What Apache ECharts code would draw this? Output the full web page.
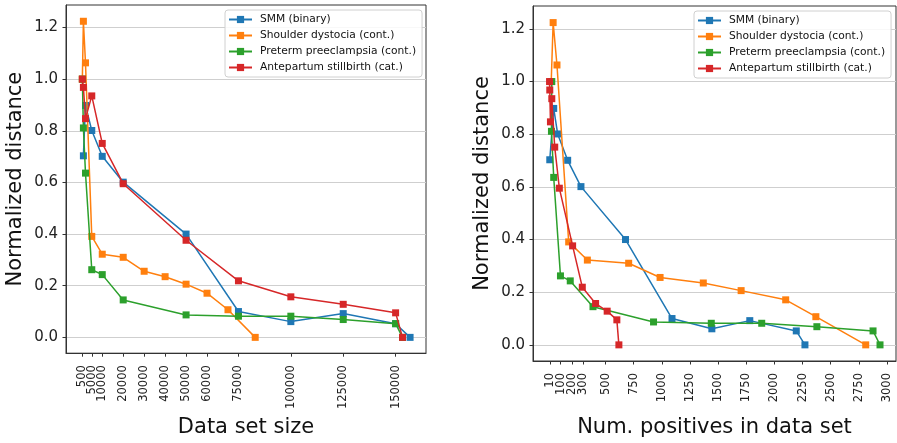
<!DOCTYPE html>
<html>
<head>
<meta charset="utf-8">
<script src="https://cdn.jsdelivr.net/npm/echarts@6/dist/echarts.min.js"></script>
<style>
  html, body { margin: 0; padding: 0; background: #fff; }
  #chart { width: 897px; height: 443px; }
</style>
</head>
<body>
<div id="chart"></div>
<script>
// series names + colours (matplotlib tab10)
const names = ["SMM (binary)", "Shoulder dystocia (cont.)", "Preterm preeclampsia (cont.)", "Antepartum stillbirth (cat.)"]
const colors = ["#1f77b4", "#ff7f0e", "#2ca02c", "#d62728"]

// SMM (binary)
const smmSize = [1000, 2000, 5000, 10000, 20000, 50000, 75000, 100000, 125000, 150000, 156900]
const smmPos = [4, 39, 74, 163, 281, 677, 1090, 1444, 1781, 2194, 2271]
const smmDist = [0.703, 0.898, 0.801, 0.701, 0.601, 0.400, 0.100, 0.061, 0.092, 0.053, 0.0]

// Shoulder dystocia (cont.)
const sdSize = [500, 1000, 2000, 5000, 10000, 20000, 30000, 40000, 50000, 60000, 70000, 83000]
const sdPos = [17, 34, 68, 172, 338, 705, 984, 1368, 1704, 2100, 2368, 2811]
const sdDist = [1.0, 1.224, 1.063, 0.391, 0.322, 0.310, 0.256, 0.235, 0.206, 0.171, 0.107, 0.0]

// Preterm preeclampsia (cont.)
const ppSize = [500, 1000, 2000, 5000, 10000, 20000, 50000, 75000, 100000, 125000, 150000, 153300]
const ppPos = [22, 19, 39, 99, 186, 388, 926, 1439, 1887, 2377, 2876, 2938]
const ppDist = [1.0, 0.811, 0.636, 0.262, 0.243, 0.145, 0.087, 0.082, 0.082, 0.069, 0.053, 0.0]

// Antepartum stillbirth (cat.)
const asSize = [500, 1000, 2000, 5000, 10000, 20000, 50000, 75000, 100000, 125000, 150000, 153300]
const asPos = [2, 4, 10, 22, 48, 89, 207, 293, 411, 514, 600, 618]
const asDist = [1.0, 0.968, 0.847, 0.935, 0.751, 0.595, 0.376, 0.219, 0.157, 0.128, 0.095, 0.0]

// tick labels
const sizeTicks = [500, 5000, 10000, 20000, 30000, 40000, 50000, 60000, 75000, 100000, 125000, 150000]
const posTicks = [10, 100, 200, 300, 500, 750, 1000, 1250, 1500, 1750, 2000, 2250, 2500, 2750, 3000]
const distTicks = [0, 0.2, 0.4, 0.6, 0.8, 1.0, 1.2]
// labels that sit on top of a neighbour (echarts would hide them), drawn on an overlay axis
const sizeCrowded = [5000]
const posCrowded = [100]

const FONT = "DejaVu Sans"
const sizes = [smmSize, sdSize, ppSize, asSize]
const positives = [smmPos, sdPos, ppPos, asPos]
const dists = [smmDist, sdDist, ppDist, asDist]

const zip = (xs, ys) => xs.map((x, i) => [x, ys[i]])

function xLabel(values, margin) {
  return {
    customValues: values,
    formatter: (v) => String(v),
    rotate: 90,
    fontSize: 11.5,
    color: "#222",
    fontFamily: FONT,
    margin: margin,
    showMinLabel: true,
    showMaxLabel: true,
    hideOverlap: false,
  }
}

function makeX(idx, min, max, ticks, crowded, name, gap, margin) {
  return {
    gridIndex: idx,
    type: "value",
    min: min,
    max: max,
    name: name,
    nameLocation: "middle",
    nameGap: gap,
    nameTextStyle: { fontSize: 21, color: "#111", fontFamily: FONT },
    axisLine: { show: true, onZero: false, lineStyle: { color: "#333" } },
    axisTick: { show: true, length: 3.5, customValues: ticks, lineStyle: { color: "#333" } },
    axisLabel: xLabel(ticks.filter((t) => crowded.indexOf(t) < 0), margin),
    splitLine: { show: false },
  }
}

// overlay axis: same scale, only the crowded labels
function makeXOverlay(idx, min, max, crowded, margin) {
  return {
    gridIndex: idx,
    type: "value",
    position: "bottom",
    offset: 0,
    min: min,
    max: max,
    axisLine: { show: false },
    axisTick: { show: false },
    axisLabel: xLabel(crowded, margin),
    splitLine: { show: false },
  }
}

function makeY(idx) {
  return {
    gridIndex: idx,
    type: "value",
    min: -0.0613,
    max: 1.287,
    name: "Normalized distance",
    nameLocation: "middle",
    nameGap: 40,
    nameTextStyle: { fontSize: 21, color: "#111", fontFamily: FONT },
    axisLine: { show: true, onZero: false, lineStyle: { color: "#333" } },
    axisTick: { show: true, length: 3.5, customValues: distTicks, lineStyle: { color: "#333" } },
    axisLabel: {
      customValues: distTicks,
      formatter: (v) => v.toFixed(1),
      fontSize: 15,
      color: "#222",
      fontFamily: FONT,
      margin: 8,
      showMinLabel: true,
      showMaxLabel: true,
    },
    splitLine: { show: true, lineStyle: { color: "#cfcfcf", width: 1 } },
  }
}

function makeLegend(left, top) {
  return {
    orient: "vertical",
    left: left,
    top: top,
    data: names,
    itemWidth: 23,
    itemHeight: 9,
    itemGap: 5,
    padding: [4, 6, 4, 3],
    backgroundColor: "rgba(255,255,255,0.85)",
    borderColor: "#d0d0d0",
    borderWidth: 1,
    borderRadius: 3,
    selectedMode: false,
    textStyle: { fontSize: 10.7, color: "#111", fontFamily: FONT, padding: [0, 0, 0, 3] },
  }
}

const series = []
names.forEach((name, i) => {
  const common = {
    name: name,
    type: "line",
    symbol: "rect",
    symbolSize: 7,
    color: colors[i],
    lineStyle: { width: 1.5, color: colors[i] },
    itemStyle: { color: colors[i] },
    emphasis: { disabled: true },
    z: 2 + i,
  }
  series.push(Object.assign({}, common, { xAxisIndex: 0, yAxisIndex: 0, data: zip(sizes[i], dists[i]) }))
  series.push(Object.assign({}, common, { xAxisIndex: 1, yAxisIndex: 1, data: zip(positives[i], dists[i]) }))
})

const myChart = echarts.init(document.getElementById("chart"))
myChart.setOption({
  animation: false,
  backgroundColor: "#fff",
  textStyle: { fontFamily: FONT },
  grid: [
    { left: 66, top: 5, width: 360, height: 351, show: true, borderColor: "#333", borderWidth: 1 },
    { left: 533, top: 6, width: 363, height: 356, show: true, borderColor: "#333", borderWidth: 1 },
  ],
  legend: [makeLegend(225, 10), makeLegend(694, 11)],
  xAxis: [
    makeX(0, -7300, 164500, sizeTicks, sizeCrowded, "Data set size", 60, 12),
    makeX(1, -145, 3080, posTicks, posCrowded, "Num. positives in data set", 56, 12),
    makeXOverlay(0, -7300, 164500, sizeCrowded, 12),
    makeXOverlay(1, -145, 3080, posCrowded, 12),
  ],
  yAxis: [makeY(0), makeY(1)],
  series: series,
})
</script>
</body>
</html>
